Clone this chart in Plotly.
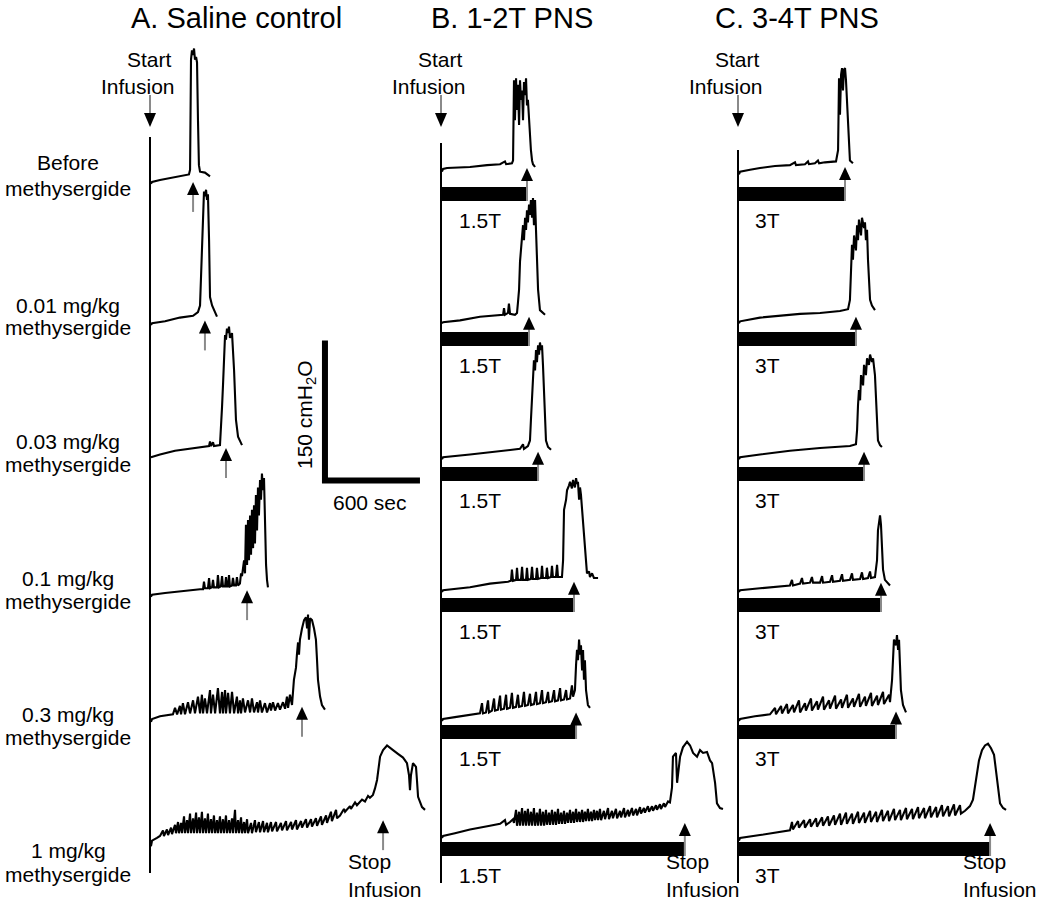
import plotly.graph_objects as go

# ---------------- data: time since start of infusion (s), pressure (cmH2O) ----------------
A1_T = [6,13,63,126,189,246,253,259,265,272,278,284,291,297,303,309,316,347,379]
A1_P = [-3,-1,1,3,5,7,12,130,140,135,142,130,133,127,65,17,10,9,5]
A2_T = [6,13,95,189,272,303,316,322,328,335,341,347,354,360,366,373,379,392,423]
A2_P = [1,3,5,9,11,15,22,49,76,124,144,139,146,135,141,92,31,22,10]
A3_T = [6,63,158,284,373,379,385,398,404,442,448,455,461,467,474,480,486,493,499,505,518,531,537,543,556,581]
A3_P = [4,7,11,14,16,21,16,20,16,17,33,58,81,119,135,130,142,137,144,132,137,97,76,44,26,17]
A4_T = [6,13,95,189,316,335,341,347,366,373,379,392,398,404,423,429,436,448,455,461,
        474,480,486,493,499,505,518,524,531,543,549,556,568,575,581,594,600,606,613,619,
        625,632,638,644,651,657,663,669,676,682,688,695,701,707,714,720,726,733,739,745]
A4_P = [-5,-3,-1,1,3,3,11,4,4,15,4,5,13,5,5,18,5,6,17,6,
        6,16,6,6,18,6,7,15,7,7,16,7,9,20,17,34,20,72,29,77,
        34,82,40,88,47,93,52,104,66,112,82,120,99,127,109,122,56,29,13,5]
A5_T = [6,13,63,126,145,158,171,189,196,208,221,240,253,272,284,303,316,328,335,347,
        360,379,385,398,411,429,442,455,461,474,480,493,505,518,531,549,556,568,575,587,
        600,619,632,644,657,676,682,695,707,726,739,758,764,777,790,808,821,840,853,865,
        872,884,897,909,922,928,935,941,947,960,973,985,992,998,1004,1011,1023,1036,1048,1055,
        1061,1074,1086,1105]
A5_P = [-3,0,3,5,5,12,5,14,5,17,5,18,6,20,6,24,6,26,6,22,
        6,31,6,26,6,33,6,29,6,31,6,28,6,29,6,24,6,20,6,22,
        7,20,7,22,7,18,7,20,7,17,7,17,9,18,9,17,10,18,11,24,
        12,26,15,42,55,69,82,69,85,97,106,109,97,112,85,108,106,97,85,63,
        42,24,15,10]
A6_T = [6,13,44,63,82,88,107,114,133,139,158,164,177,183,196,202,215,221,234,240,
        253,259,272,278,291,297,309,316,328,335,347,354,366,373,385,392,404,411,423,429,
        442,448,461,467,480,486,499,505,518,524,537,543,556,562,575,581,594,600,613,619,
        638,644,663,669,688,695,714,720,739,745,764,771,796,802,827,834,859,865,891,897,
        922,928,954,960,985,992,1017,1023,1048,1055,1080,1086,1112,1118,1143,1149,1175,1181,1200,1225,
        1232,1263,1269,1295,1307,1339,1358,1377,1389,1408,1421,1434,1453,1472,1497,1516,1535,1566,1598,1623,
        1636,1642,1648,1661,1680,1686,1693,1718,1737]
A6_P = [-11,-5,-2,0,6,0,7,1,9,2,12,3,15,3,14,3,21,3,17,3,
        24,3,19,3,25,3,20,3,26,3,19,3,24,3,18,3,22,3,17,3,
        21,3,18,3,22,3,17,3,19,3,28,3,17,3,20,3,15,3,18,3,
        14,3,17,4,15,4,16,4,14,4,15,5,15,5,14,6,16,6,15,7,
        17,7,16,9,18,9,18,10,19,11,21,12,22,14,26,16,28,19,22,29,
        26,32,29,36,33,39,37,43,41,44,51,60,85,92,97,94,92,88,84,78,
        65,49,65,78,74,60,42,31,28]

B1_T = [6,13,38,183,291,373,404,411,448,455,461,467,474,480,486,493,499,505,512,518,524,531,537,543,549,556,562,568,575,581,594]
B1_P = [10,13,14,15,17,18,21,18,19,22,108,65,110,76,103,60,108,87,97,65,106,92,110,81,87,65,49,33,22,18,15]
B2_T = [6,13,120,246,392,398,404,423,429,436,467,480,486,493,499,505,512,518,524,531,537,543,549,556,562,568,575,581,587,594,600,606,613,625,638,657]
B2_P = [3,4,6,10,12,19,12,14,24,13,12,14,25,39,69,81,97,108,92,116,103,124,111,130,119,135,116,137,108,135,103,71,39,17,15,12]
B3_T = [6,13,183,373,499,518,524,549,562,568,575,581,587,594,600,606,613,619,625,632,638,644,651,657,663,676,695]
B3_P = [2,4,7,11,13,18,13,16,22,44,71,87,108,97,119,106,124,114,127,119,124,103,76,44,22,15,12]
B4_T = [6,13,183,309,423,442,448,455,474,480,486,505,512,518,537,543,549,568,575,581,
        600,606,613,632,638,644,663,669,676,695,701,707,726,733,739,764,771,777,790,796,
        808,815,827,834,846,853,859,865,872,878,884,891,897,909,916,922,935,941,954,966,992]
B4_P = [0,2,5,9,11,12,24,12,13,26,13,13,27,13,13,26,13,14,27,14,
        14,26,14,15,28,15,15,26,15,16,28,16,16,29,16,16,34,88,99,109,
        114,118,111,120,112,122,116,118,99,112,104,88,70,45,27,20,22,16,20,15,15]
B5_T = [6,13,88,183,246,259,265,284,297,303,322,335,341,360,373,379,398,411,417,436,
        448,455,474,486,493,512,524,531,549,562,568,587,600,606,625,638,644,663,676,682,
        701,714,720,739,752,758,777,790,796,815,827,834,846,853,859,865,872,878,884,891,
        897,903,909,916,928,941]
B5_P = [-2,0,2,4,6,17,6,7,20,7,9,22,9,10,25,10,11,26,11,12,
        28,12,13,26,13,14,29,14,15,27,15,16,29,16,17,31,17,18,29,18,
        19,31,19,20,33,20,21,31,21,22,36,24,31,58,74,63,85,69,79,52,
        74,42,63,31,15,12]
B6_T = [6,13,88,183,309,373,404,411,436,455,461,
        474,480,493,499,512,518,531,537,549,556,568,575,587,594,606,613,625,632,644,651,
        663,669,682,688,701,707,720,726,739,745,758,764,777,783,796,802,815,821,834,840,
        853,859,872,878,891,897,909,916,928,935,947,954,966,973,985,992,1004,1011,1029,1036,
        1055,1061,1080,1086,1105,1112,1131,1137,1156,1162,1181,1187,1206,1213,1232,1238,1257,1263,1282,1288,
        1307,1314,1333,1339,1358,1364,1383,1389,1408,1415,1434,1446,1459,1465,1484,1491,1510,1528,1554,1573,
        1592,1617,1636,1655,1680,1699,1712,1731,1743,1762,1781]
B6_P = [-2,0,3,7,11,13,17,12,15,18,14,
        28,11,26,11,30,11,27,11,29,11,26,11,30,11,25,11,29,11,26,11,
        28,12,25,12,28,12,26,12,29,13,25,13,27,13,25,14,28,14,26,14,
        29,15,26,15,28,15,26,16,29,16,26,16,28,17,27,17,29,17,27,18,
        30,18,27,19,29,19,27,20,30,20,28,21,30,22,29,22,31,24,30,25,
        32,26,32,27,33,28,34,29,35,31,37,36,52,85,89,57,85,95,101,97,
        89,85,92,89,90,81,78,57,35,30,29]

C1_T = [6,13,76,139,234,328,360,366,423,442,448,486,505,512,549,619,632,638,644,651,657,663,669,676,682,688,695,701,707,726]
C1_P = [7,10,12,14,16,17,20,17,18,21,18,19,22,19,20,21,33,110,71,114,121,97,119,121,108,87,55,28,22,19]
C2_T = [6,13,139,265,392,518,644,695,707,714,720,726,733,745,752,758,764,777,783,796,802,808,815,821,827,834,846,865]
C2_P = [3,5,9,11,13,14,16,18,28,60,87,71,97,81,108,92,114,97,116,105,111,92,103,71,44,28,22,17]
C3_T = [6,13,139,328,518,707,745,752,758,764,771,777,790,796,808,815,827,834,846,853,865,872,878,884,897,909]
C3_P = [2,4,7,11,14,16,18,33,60,76,65,92,81,103,92,110,103,114,106,110,92,65,39,22,17,15]
C4_T = [6,13,139,265,328,341,347,392,404,411,455,467,474,518,531,537,581,594,600,644,
        657,663,707,720,726,771,783,790,821,834,840,865,878,884,891,897,903,909,916,928,947,960]
C4_P = [0,2,4,6,7,13,7,9,15,9,10,16,10,10,17,10,11,18,11,12,
        19,12,13,20,13,14,21,14,15,22,15,16,34,66,77,82,72,50,24,13,10,7]
C5_T = [6,13,107,202,234,240,272,278,309,316,347,354,385,392,423,429,461,467,499,505,
        537,543,575,581,613,619,651,657,688,695,726,733,764,771,802,808,840,846,878,884,
        916,922,954,960,973,979,985,998,1004,1011,1017,1023,1029,1042,1061]
C5_P = [-2,0,3,5,12,5,14,6,16,6,15,7,20,7,17,9,22,9,19,10,
        24,10,20,11,25,11,21,12,26,12,22,13,27,13,24,14,28,14,25,15,
        29,16,26,18,42,69,85,79,90,74,85,58,31,15,7]
C6_T = [6,13,139,265,328,
        341,347,379,385,417,423,455,461,493,499,531,537,568,575,606,613,644,651,682,688,
        720,726,758,764,796,802,834,840,872,878,909,916,947,954,985,992,1023,1029,1061,1067,
        1099,1105,1137,1143,1175,1181,1213,1219,1251,1257,1288,1295,1326,1333,1364,1371,1402,1408,
        1434,1465,1484,1503,1522,1541,1560,1579,1598,1617,1629,1642,1655,1674,1693]
C6_P = [-5,-2,1,4,6,
        15,7,16,9,17,9,18,10,19,10,20,11,21,11,22,12,24,12,25,13,
        24,13,26,14,25,14,27,15,26,15,28,16,27,16,29,17,28,17,30,18,
        29,18,31,19,30,19,32,20,31,20,33,21,32,21,34,22,33,24,
        27,32,39,60,81,92,97,99,94,87,71,49,35,30,28]

# end of infusion (s) for every recording, row by row
STOP_A = [272, 347, 480, 613, 960, 1472]
STOP_B = [543, 556, 613, 840, 853, 1540]
STOP_C = [676, 745, 796, 903, 998, 1592]

COL_TITLES = ["A. Saline control", "B. 1-2T PNS", "C. 3-4T PNS"]
ROW_LABELS = [["Before", "methysergide"], ["0.01 mg/kg", "methysergide"],
              ["0.03 mg/kg", "methysergide"], ["0.1 mg/kg", "methysergide"],
              ["0.3 mg/kg", "methysergide"], ["1 mg/kg", "methysergide"]]
STIM_LABELS = [None, "1.5T", "3T"]
SCALE_CM = 150
SCALE_SEC = 600

TRACES = [
    [(A1_T, A1_P), (A2_T, A2_P), (A3_T, A3_P), (A4_T, A4_P), (A5_T, A5_P), (A6_T, A6_P)],
    [(B1_T, B1_P), (B2_T, B2_P), (B3_T, B3_P), (B4_T, B4_P), (B5_T, B5_P), (B6_T, B6_P)],
    [(C1_T, C1_P), (C2_T, C2_P), (C3_T, C3_P), (C4_T, C4_P), (C5_T, C5_P), (C6_T, C6_P)],
]
STOPS = [STOP_A, STOP_B, STOP_C]

# ---------------- layout geometry ----------------
W, H = 1050, 907
SEC_PER_PX = SCALE_SEC / 95.0
CM_PER_PX = SCALE_CM / 140.0
COL_X0 = [150, 441, 738]              # pixel column of time zero
ROW_Y0 = [181, 326, 461, 592, 719, 836]  # pixel row of 0 cmH2O
COL_LINE = [(137, 873), (143, 883), (150, 883)]
ARROW_TIP = [[-1, 6, 14, 2, 13, 17], [14, 10, 10, 11, 7, 14], [15, 10, 10, 10, 8, 14]]  # cmH2O
BAR_TOP_PX, BAR_BOT_PX = 6, 20
FONT = "Liberation Sans, Arial, Helvetica, sans-serif"
GREY = "#8a8a8a"
LABEL_SIZE = 21


def xa(c):
    return "x" if c == 0 else "x%d" % (c + 1)


def ya(r):
    return "y" if r == 0 else "y%d" % (r + 1)


def pyp(py):
    return 1 - py / H


def pxp(px):
    return px / W


fig = go.Figure()
for c in range(3):
    for r in range(6):
        T, P = TRACES[c][r]
        fig.add_trace(go.Scatter(x=T, y=P, mode="lines", xaxis=xa(c), yaxis=ya(r),
                                 line=dict(color="black", width=2.1),
                                 hoverinfo="skip", showlegend=False))

# scale bar (drawn in column A / row 3 units)
SB_T0, SB_P0 = 1105, -21
fig.add_trace(go.Scatter(x=[SB_T0, SB_T0, SB_T0 + SCALE_SEC], y=[SB_P0 + SCALE_CM, SB_P0, SB_P0],
                         mode="lines", xaxis="x", yaxis="y3",
                         line=dict(color="black", width=6), hoverinfo="skip", showlegend=False))

layout = dict(width=W, height=H, margin=dict(l=0, r=0, t=0, b=0),
              paper_bgcolor="white", plot_bgcolor="rgba(0,0,0,0)", showlegend=False,
              font=dict(family=FONT, color="black", size=LABEL_SIZE))
for c in range(3):
    d = dict(domain=[0, 1], range=[-COL_X0[c] * SEC_PER_PX, (W - COL_X0[c]) * SEC_PER_PX],
             visible=False, fixedrange=True)
    if c:
        d["overlaying"] = "x"
    layout["xaxis" if c == 0 else "xaxis%d" % (c + 1)] = d
for r in range(6):
    d = dict(domain=[0, 1], range=[-(H - ROW_Y0[r]) * CM_PER_PX, ROW_Y0[r] * CM_PER_PX],
             visible=False, fixedrange=True)
    if r:
        d["overlaying"] = "y"
    layout["yaxis" if r == 0 else "yaxis%d" % (r + 1)] = d

shapes = []
annotations = []


def up_arrow(xref, yref, x, y, shaft_px):
    shapes.append(dict(type="line", xref=xref, yref=yref, xsizemode="pixel", ysizemode="pixel",
                       xanchor=x, yanchor=y, x0=0, x1=0, y0=-11, y1=-shaft_px,
                       line=dict(color=GREY, width=2)))
    shapes.append(dict(type="path", xref=xref, yref=yref, xsizemode="pixel", ysizemode="pixel",
                       xanchor=x, yanchor=y, path="M 0 0 L -6 -13 L 6 -13 Z",
                       fillcolor="black", line=dict(width=0)))


def text(x, y, s, size=LABEL_SIZE, xanchor="center", yanchor="middle", xref="paper", yref="paper", **kw):
    annotations.append(dict(x=x, y=y, xref=xref, yref=yref, text=s, showarrow=False,
                            xanchor=xanchor, yanchor=yanchor,
                            font=dict(size=size, family=FONT, color="black"), **kw))


for c in range(3):
    # time-zero line
    shapes.append(dict(type="line", xref=xa(c), yref="paper", x0=0, x1=0,
                       y0=pyp(COL_LINE[c][1]), y1=pyp(COL_LINE[c][0]),
                       line=dict(color="black", width=2)))
    # start infusion arrow
    shapes.append(dict(type="line", xref=xa(c), yref="paper", xsizemode="pixel", ysizemode="pixel",
                       xanchor=0, yanchor=pyp(127), x0=0, x1=0, y0=12, y1=32,
                       line=dict(color=GREY, width=2)))
    shapes.append(dict(type="path", xref=xa(c), yref="paper", xsizemode="pixel", ysizemode="pixel",
                       xanchor=0, yanchor=pyp(127), path="M 0 0 L -6 14 L 6 14 Z",
                       fillcolor="black", line=dict(width=0)))
    text(0, pyp(60), "Start", xref=xa(c), xanchor="right", xshift=24)
    text(0, pyp(86), "Infusion", xref=xa(c), xanchor="right", xshift=27)
    for r in range(6):
        stop = STOPS[c][r]
        tip = ARROW_TIP[c][r]
        if c == 0:
            up_arrow(xa(c), ya(r), stop, tip, 30)
        else:
            shapes.append(dict(type="rect", xref=xa(c), yref=ya(r), x0=0, x1=stop,
                               y0=-BAR_BOT_PX * CM_PER_PX, y1=-BAR_TOP_PX * CM_PER_PX,
                               fillcolor="black", line=dict(width=0)))
            up_arrow(xa(c), ya(r), stop, tip, tip / CM_PER_PX + BAR_BOT_PX)
            text(0, 0, STIM_LABELS[c], xref=xa(c), yref=ya(r),
                 xshift=39 if c == 1 else 29, yshift=-39)

# column titles
for s, cx in zip(COL_TITLES, [236, 512, 797]):
    text(pxp(cx), 1.0, s, size=29, yanchor="top")

# row labels
ROW_LABEL_Y = [(162, 188), (305, 328), (441, 464), (578, 601), (714, 737), (850, 874)]
for r in range(6):
    for line, py in zip(ROW_LABELS[r], ROW_LABEL_Y[r]):
        text(pxp(68), pyp(py), line)

# stop infusion labels (last row)
for lx in [346, 664, 961]:
    text(pxp(lx), pyp(861), "Stop", xanchor="left")
    text(pxp(lx), pyp(889), "Infusion", xanchor="left")

# scale bar labels
text(pxp(306), pyp(415), "150 cmH<sub>2</sub>O", textangle=-90)
text(pxp(370), pyp(503), "600 sec")

layout["shapes"] = shapes
layout["annotations"] = annotations
fig.update_layout(**layout)
fig.write_html("out.html", config={"displayModeBar": False},
               post_script="document.body.style.margin='0';document.body.style.overflow='hidden';")
